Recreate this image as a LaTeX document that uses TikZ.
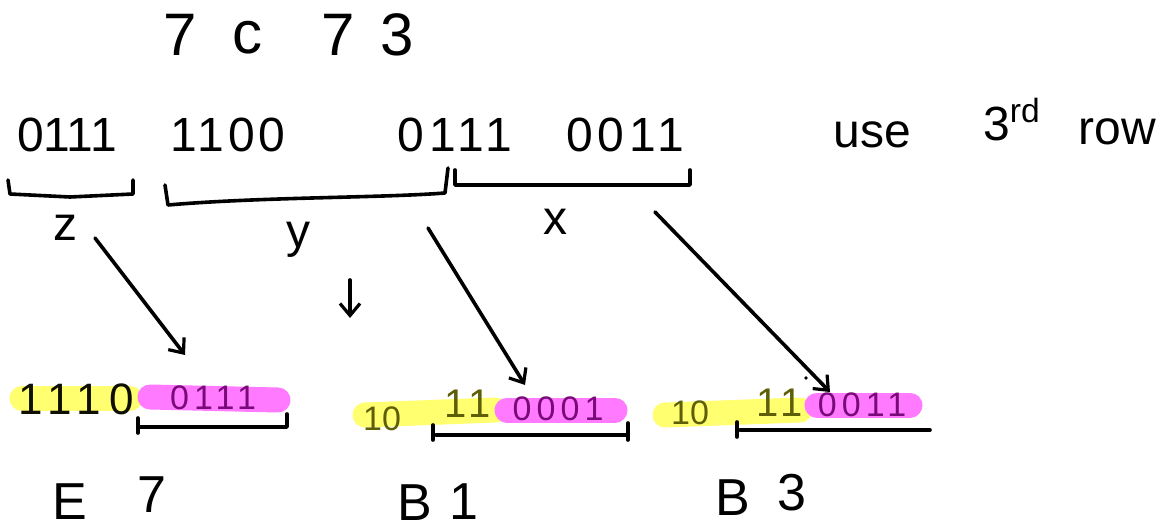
\documentclass[tikz,border=0pt]{standalone}
\usepackage{fontspec}
\setmainfont{Liberation Sans}
\usetikzlibrary{arrows.meta}
\definecolor{hlyellow}{HTML}{FFFF70}
\definecolor{hlpink}{HTML}{FF7AFF}
\definecolor{olivetxt}{HTML}{5E5E08}
\definecolor{purpletxt}{HTML}{7A0A7A}
\tikzset{
  ink/.style={line width=1.8pt, line cap=round, line join=round},
  arr/.style={ink, -{Straight Barb[length=6pt,width=10pt,line width=1.6pt]}},
  hl/.style={line width=12.5pt, line cap=round},
  big/.style={font=\fontsize{30}{34}\selectfont, inner sep=0},
  mid/.style={font=\fontsize{24}{28}\selectfont, inner sep=0},
  lab/.style={font=\fontsize{26}{30}\selectfont, inner sep=0},
  dig/.style={font=\fontsize{17}{20}\selectfont, inner sep=0},
  digy/.style={font=\fontsize{20}{22}\selectfont\addfontfeature{LetterSpace=12}, inner sep=0, text=olivetxt},
  digp/.style={font=\fontsize{17}{20}\selectfont\addfontfeature{LetterSpace=15}, inner sep=0, text=purpletxt}
}
\begin{document}
\begin{tikzpicture}[x=0.5pt,y=-0.5pt]
\useasboundingbox (0,0) rectangle (1165,529);

% top hex
\node[big] (h7) at (180,35) {7};
\node[big] (hc) at (247,38) {c};
\node[big] (h7b) at (338,35) {7};
\node[big] (h3) at (397,35) {3};

% binary row
\node[mid] (b1) at (67,135) {0111};
\node[mid, font=\fontsize{24}{28}\selectfont\addfontfeature{LetterSpace=8}] (b2) at (228,135) {1100};
\node[mid, font=\fontsize{24}{28}\selectfont\addfontfeature{LetterSpace=10}] (b3) at (455,135) {0111};
\node[mid, font=\fontsize{24}{28}\selectfont\addfontfeature{LetterSpace=10}] (b4) at (625,135) {0011};

\node[mid] (use) at (872,135) {use};
\node[mid] (third) at (1012,120) {3\textsuperscript{rd}};
\node[mid] (row) at (1117,132) {row};

% braces
\draw[ink] (8,180) -- (10,194) -- (70,197) -- (133,194) -- (133,180);
\draw[ink] (165,185) -- (168,205) .. controls (260,197) and (380,198) .. (445,193) -- (448,168);
\draw[ink] (455,170) -- (455,185) -- (690,185) -- (690,170);

% labels
\node[mid] (lz) at (65,228) {z};
\node[mid] (ly) at (298,240) {y};
\node[mid] (lx) at (555,222) {x};

% arrows
\coordinate (za) at (95,238);
\coordinate (zb) at (185,355);
\coordinate (ya) at (350,280);
\coordinate (yb) at (350,318);
\coordinate (pa) at (428,228);
\coordinate (pb) at (525,385);
\coordinate (qa) at (655,212);
\coordinate (qb) at (830,392);
\draw[arr] (za) -- (zb);
\draw[arr] (ya) -- (yb);
\draw[arr] (pa) -- (pb);
\draw[arr] (qa) -- (qb);
\fill (806,378) circle (1.8);

% bottom left
\draw[hl, hlyellow] (22,398) -- (130,398);
\draw[hl, hlpink] (150,397) -- (278,400);
\node[digy, font=\fontsize{22}{24}\selectfont\addfontfeature{LetterSpace=18}, text=black!85!olivetxt] (l1) at (76,399) {1110};
\node[digp] (l2) at (213,398) {0111};
\draw[ink] (138,418) -- (138,433);
\draw[ink] (140,427) -- (287,427) -- (287,414);

% bottom middle
\draw[hl, hlyellow] (365,415) -- (495,410);
\draw[hl, hlpink] (507,410) -- (615,410);
\node[dig, text=olivetxt] (m1) at (382,419) {10};
\node[digy] (m2) at (468,404) {11};
\node[digp] (m3) at (558,409) {0001};
\draw[ink] (433,425) -- (433,440);
\draw[ink] (436,435) -- (628,435);
\draw[ink] (628,423) -- (628,440);

% bottom right
\draw[hl, hlyellow] (665,415) -- (800,410);
\draw[hl, hlpink] (817,405) -- (910,405);
\node[dig, text=olivetxt] (r1) at (690,413) {10};
\node[digy] (r2) at (780,403) {11};
\node[digp] (r3) at (862,405) {0011};
\draw[ink] (737,422) -- (737,437);
\draw[ink] (740,430) -- (930,430);

% bottom hex
\node[lab] (e) at (70,502) {E};
\node[lab] (e7) at (152,495) {7};
\node[lab] (bb1) at (415,503) {B};
\node[lab] (b1d) at (464,502) {1};
\node[lab] (bb2) at (733,498) {B};
\node[lab] (b3d) at (792,493) {3};
\end{tikzpicture}
\end{document}
